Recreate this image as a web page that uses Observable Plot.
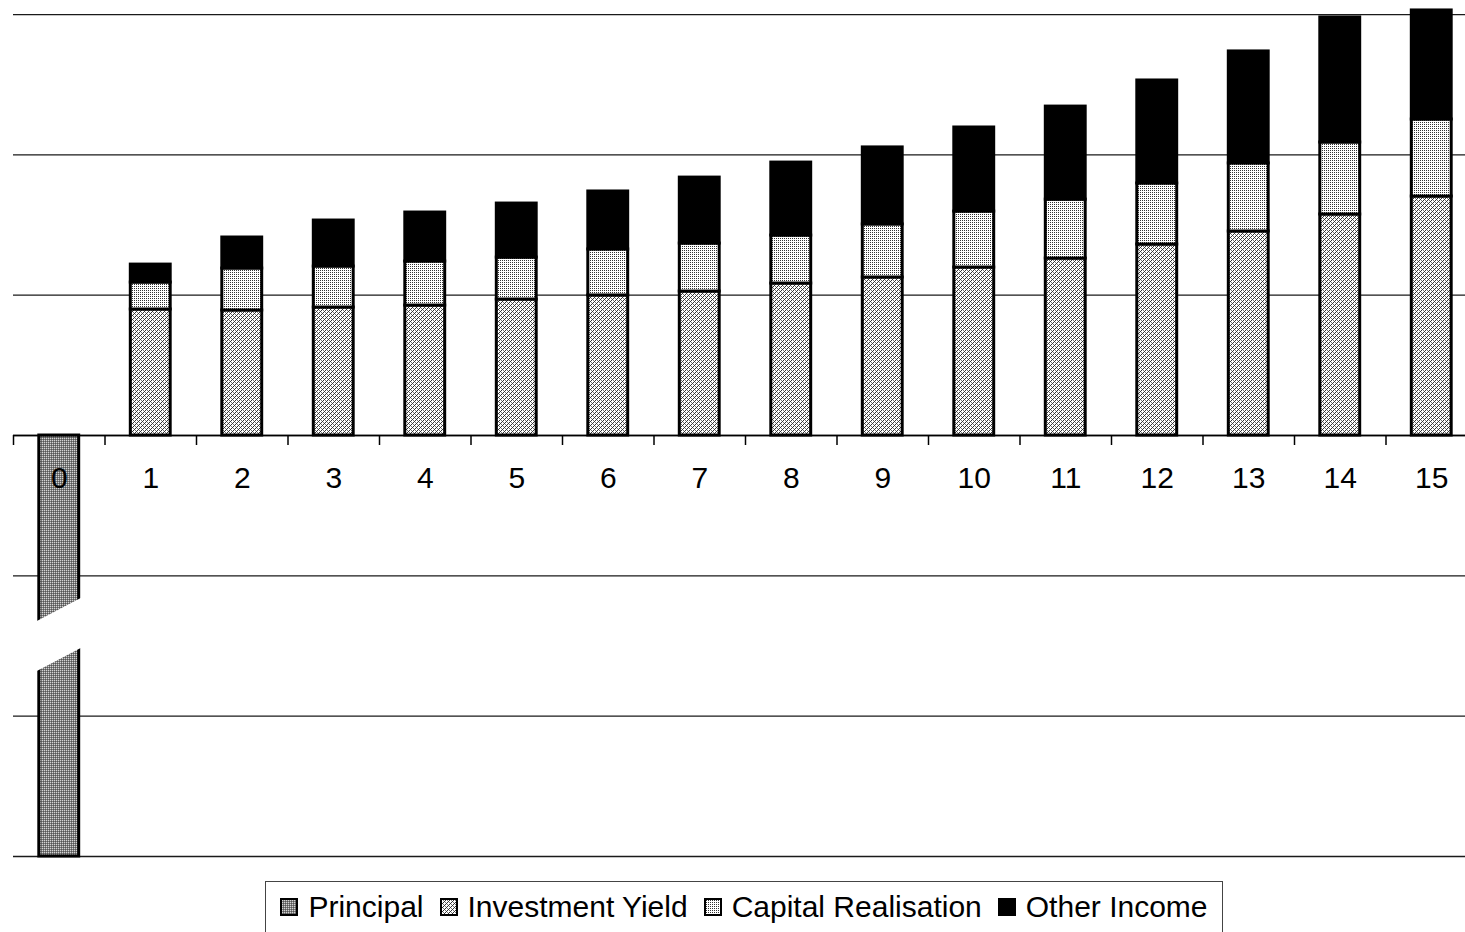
<!DOCTYPE html>
<html>
<head>
<meta charset="utf-8">
<script src="https://cdn.jsdelivr.net/npm/d3@7"></script>
<script src="https://cdn.jsdelivr.net/npm/@observablehq/plot@0.6"></script>
<style>
  html, body { margin: 0; padding: 0; background: #fff; overflow: hidden; width: 1465px; height: 932px; }
  #chart { position: absolute; left: 0; top: 0; width: 1477px; }
  #chart svg { max-width: none !important; }
  #legend {
    position: absolute; left: 265px; top: 881px; width: 958px; height: 58px;
    box-sizing: border-box; border: 1px solid #444;
    display: flex; align-items: center; justify-content: center; padding-bottom: 6px;
    font-family: "Liberation Sans", Arial, sans-serif; font-size: 30px; color: #000;
  }
  .item { display: flex; align-items: center; margin: 0 8px; }
  .item svg { margin-right: 10px; }
</style>
</head>
<body>
<!-- Fill patterns for the series -->
<svg width="0" height="0" style="position:absolute">
  <defs>
    <pattern id="pat-principal" width="2" height="2" patternUnits="userSpaceOnUse">
      <rect width="2" height="2" fill="#7c7c7c"/>
      <rect x="0" y="0" width="1" height="1" fill="#d4d4d4"/>
      <rect x="1" y="1" width="1" height="1" fill="#555"/>
    </pattern>
    <pattern id="pat-yield" width="4" height="4" patternUnits="userSpaceOnUse">
      <rect width="4" height="4" fill="#fff"/>
      <rect x="3" y="0" width="1" height="1" fill="#333"/>
      <rect x="2" y="1" width="1" height="1" fill="#333"/>
      <rect x="1" y="2" width="1" height="1" fill="#333"/>
      <rect x="0" y="3" width="1" height="1" fill="#333"/>
      <rect x="1" y="0" width="1" height="1" fill="#777"/>
      <rect x="3" y="2" width="1" height="1" fill="#777"/>
    </pattern>
    <pattern id="pat-capital" width="2" height="2" patternUnits="userSpaceOnUse">
      <rect width="2" height="2" fill="#fff"/>
      <rect x="0" y="0" width="1" height="1" fill="#333"/>
    </pattern>
  </defs>
</svg>
<div id="chart"></div>
<div id="legend"></div>
<script>
// Years on the horizontal axis
const years = [0, 1, 2, 3, 4, 5, 6, 7, 8, 9, 10, 11, 12, 13, 14, 15];

// Series values per year
const principal          = [-3000, 0, 0, 0, 0, 0, 0, 0, 0, 0, 0, 0, 0, 0, 0, 0];
const investmentYield    = [0, 898, 891, 912, 926, 969, 998, 1026, 1083, 1126, 1197, 1261, 1361, 1454, 1575, 1703];
const capitalRealisation = [0, 192, 299, 292, 314, 299, 328, 342, 342, 378, 399, 420, 435, 485, 513, 549];
const otherIncome        = [0, 128, 221, 328, 349, 385, 413, 470, 520, 549, 599, 663, 734, 798, 891, 777];

// Horizontal gridlines
const gridValues = [-3000, -2000, -1000, 0, 1000, 2000, 3000];

// Axis break cut through the year-0 bar (slanted gap, in data units)
const axisBreak = [
  {x: -0.25, top: -1329, bottom: -1685},
  {x:  0.25, top: -1158, bottom: -1514}
];

const series = [
  {name: "Principal",           values: principal,          fill: "url(#pat-principal)"},
  {name: "Investment Yield",    values: investmentYield,    fill: "url(#pat-yield)"},
  {name: "Capital Realisation", values: capitalRealisation, fill: "url(#pat-capital)"},
  {name: "Other Income",        values: otherIncome,        fill: "#000"}
];

// Stack the series per year (positives up, negatives down)
const segments = [];
years.forEach((year, i) => {
  let pos = 0, neg = 0;
  for (const s of series) {
    const v = s.values[i];
    if (!v) continue;
    if (v > 0) { segments.push({year, series: s.name, y1: pos, y2: pos + v}); pos += v; }
    else { segments.push({year, series: s.name, y1: neg + v, y2: neg}); neg += v; }
  }
});

const halfBar = 0.218;
const tickBounds = years.map(y => y - 0.5);

const chart = Plot.plot({
  width: 1477,
  height: 866,
  marginLeft: 13,
  marginRight: 0,
  marginTop: 0,
  marginBottom: 10,
  style: {fontFamily: "'Liberation Sans', Arial, sans-serif", background: "transparent", overflow: "visible", maxWidth: "none"},
  x: {domain: [-0.5, 15.5], axis: null},
  y: {domain: [-3000, 3100], axis: null},
  marks: [
    Plot.ruleY(gridValues, {stroke: "#1a1a1a", strokeWidth: 1.3}),
    ...series.map(s => Plot.rect(segments.filter(d => d.series === s.name), {
      x1: d => d.year - halfBar,
      x2: d => d.year + halfBar,
      y1: "y1",
      y2: "y2",
      fill: s.fill,
      stroke: "#000",
      strokeWidth: 3
    })),
    Plot.areaY(axisBreak, {x: "x", y1: "bottom", y2: "top", fill: "#fff"}),
    Plot.ruleY([0], {stroke: "#000", strokeWidth: 1.5}),
    Plot.ruleX(tickBounds, {x: d => d, y1: 0, y2: 0, insetBottom: -10, stroke: "#000", strokeWidth: 1.5}),
    Plot.text(years, {x: d => d, y: 0, dy: 43, text: d => String(d), fontSize: 30, fill: "#000"})
  ]
});
document.getElementById("chart").appendChild(chart);

// Legend
const legend = document.getElementById("legend");
for (const s of series) {
  const item = document.createElement("div");
  item.className = "item";
  item.innerHTML = `<svg width="18" height="18"><rect x="1" y="1" width="16" height="16" fill="${s.fill}" stroke="#000" stroke-width="2"/></svg><span>${s.name}</span>`;
  legend.appendChild(item);
}
</script>
</body>
</html>
